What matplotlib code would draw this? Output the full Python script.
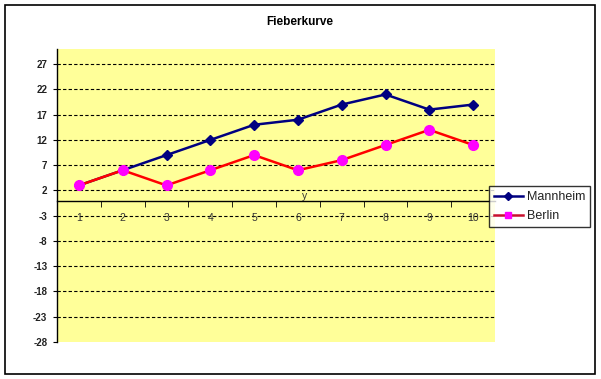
import matplotlib.pyplot as plt
from matplotlib.patches import Rectangle
from matplotlib.lines import Line2D

plt.rcParams['font.family'] = ['Liberation Sans', 'DejaVu Sans']

days = [1, 2, 3, 4, 5, 6, 7, 8, 9, 10]
mannheim = [3, 6, 9, 12, 15, 16, 19, 21, 18, 19]
berlin = [3, 6, 3, 6, 9, 6, 8, 11, 14, 11]
y_ticks = [-28, -23, -18, -13, -8, -3, 2, 7, 12, 17, 22, 27]

fig = plt.figure(figsize=(6.01, 3.79), dpi=100)
fig.patches.append(Rectangle((5 / 601, 1 - 374 / 379), 590 / 601, 369 / 379,
                             transform=fig.transFigure, fill=False,
                             edgecolor='black', linewidth=1.2))

ax = fig.add_axes([57 / 601, 1 - 342 / 379, 438 / 601, 293 / 379])
ax.set_facecolor('#FFFF99')

ax.set_xlim(0.5, 10.5)
ax.set_ylim(-28, 30)
ax.set_yticks(y_ticks)
ax.set_yticklabels([str(v) for v in y_ticks], fontsize=7, fontweight='bold',
                   color='#222222')
for v in y_ticks[1:]:
    ax.axhline(v, color='black', linestyle=(0, (3, 2)), linewidth=0.8, zorder=1)

# category axis crosses at 0
ax.spines['bottom'].set_position(('data', 0))
ax.spines['top'].set_visible(False)
ax.spines['right'].set_visible(False)
ax.spines['left'].set_linewidth(1.0)
ax.spines['bottom'].set_linewidth(1.0)
ax.set_xticks(days)
ax.set_xticklabels([str(d) for d in days], fontsize=7.5, color='#333333')
ax.tick_params(axis='x', which='major', length=0, pad=9)
ax.set_xticks([d + 0.5 for d in days[:-1]], minor=True)
ax.tick_params(axis='x', which='minor', length=4, direction='out')
ax.tick_params(axis='y', length=3, pad=4)
ax.text(6.1, 0.3, 'y', fontsize=7.5, color='#333333')

ax.plot(days, mannheim, color='#000080', linewidth=1.8, marker='D',
        markersize=5.5, markerfacecolor='#000080', markeredgecolor='#000080', zorder=3)
ax.plot(days, berlin, color='#FF0000', linewidth=1.8, marker='o',
        markersize=7, markerfacecolor='#FF00FF', markeredgecolor='#FF00FF', zorder=4)

fig.text(300 / 601, 1 - 22 / 379, 'Fieberkurve', ha='center', va='center',
         fontsize=8.5, fontweight='bold')

handles = [Line2D([], [], color='#000080', linewidth=1.8, marker='D', markersize=4.5),
           Line2D([], [], color='#C8102E', linewidth=1.8, marker='s', markersize=5,
                  markerfacecolor='#FF00FF', markeredgecolor='#FF00FF')]
leg = fig.legend(handles, ['Mannheim', 'Berlin'], loc='upper left',
                 bbox_to_anchor=(489 / 601, 1 - 186 / 379), fontsize=9,
                 frameon=True, fancybox=False, edgecolor='black',
                 handlelength=2.3, handletextpad=0.3, borderpad=0.4,
                 labelspacing=0.55, borderaxespad=0)
leg.get_frame().set_linewidth(1.0)
for t in leg.get_texts():
    t.set_color('#222222')

fig.savefig('out.png', dpi=100)
